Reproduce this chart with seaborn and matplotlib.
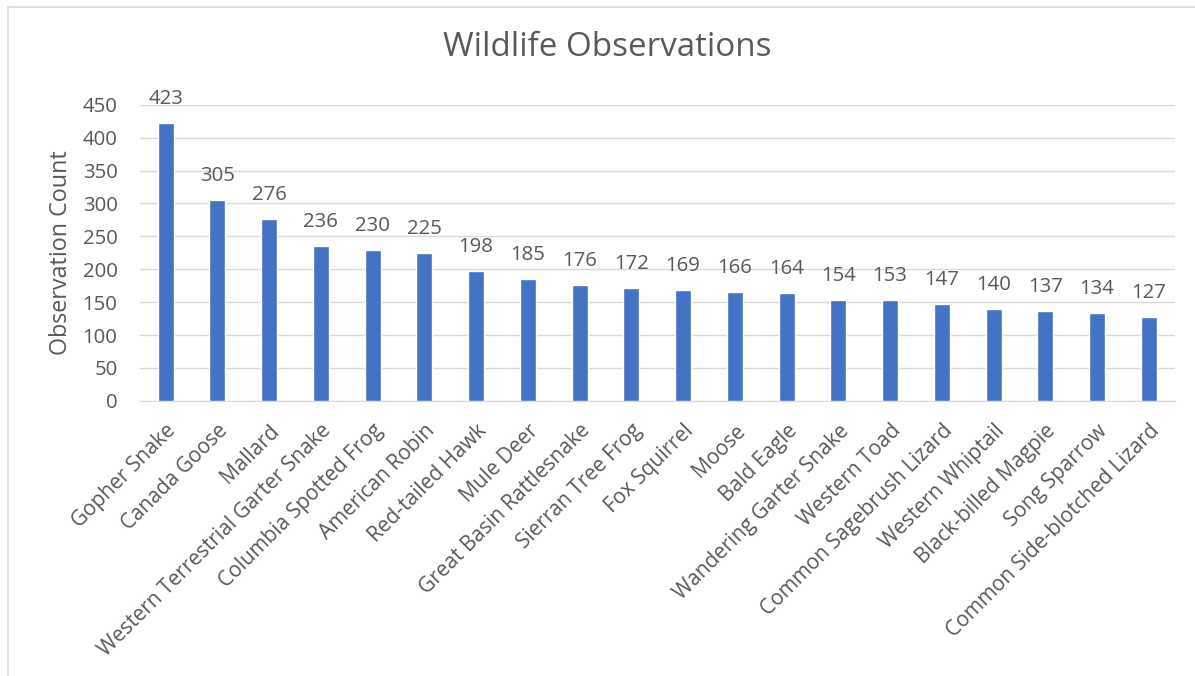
import matplotlib.pyplot as plt
import seaborn as sns

# data
species = ["Gopher Snake", "Canada Goose", "Mallard", "Western Terrestrial Garter Snake",
           "Columbia Spotted Frog", "American Robin", "Red-tailed Hawk", "Mule Deer",
           "Great Basin Rattlesnake", "Sierran Tree Frog", "Fox Squirrel", "Moose",
           "Bald Eagle", "Wandering Garter Snake", "Western Toad", "Common Sagebrush Lizard",
           "Western Whiptail", "Black-billed Magpie", "Song Sparrow", "Common Side-blotched Lizard"]
counts = [423, 305, 276, 236, 230, 225, 198, 185, 176, 172, 169, 166, 164, 154, 153, 147, 140, 137, 134, 127]
yticks = [0, 50, 100, 150, 200, 250, 300, 350, 400, 450]

sns.set_style("white")
plt.rcParams['font.family'] = ['Open Sans', 'DejaVu Sans']
txt = '#595959'

fig = plt.figure(figsize=(11.95, 6.76), dpi=100)
ax = fig.add_axes([0.117, 0.407, 0.866, 0.438])

sns.barplot(x=species, y=counts, color='#4472C4', width=0.31, saturation=1, ax=ax, zorder=3)

# value labels above bars
for i, v in enumerate(counts):
    ax.annotate(str(v), (i, v), xytext=(0, 10), textcoords='offset points',
                ha='center', va='bottom', fontsize=14.7, color=txt, annotation_clip=False)

ax.set_ylim(0, 450)
ax.set_xlim(-0.5, len(species) - 0.5)
ax.set_yticks(yticks)
ax.set_yticklabels([str(t) for t in yticks], fontsize=14.7, color=txt)
ax.set_xticks(range(len(species)))
ax.set_xticklabels(species, rotation=45, ha='right', rotation_mode='anchor', fontsize=15, color=txt)
ax.tick_params(axis='y', length=0, pad=16)
ax.tick_params(axis='x', length=0, pad=14)
ax.grid(axis='y', color='#d9d9d9', linewidth=1, zorder=0)
for s in ['left', 'right', 'top']:
    ax.spines[s].set_visible(False)
ax.spines['bottom'].set_color('#d9d9d9')
ax.set_ylabel('Observation Count', fontsize=16.8, color=txt, labelpad=7)
ax.set_xlabel('')
fig.text(0.508, 0.929, 'Wildlife Observations', ha='center', va='center', fontsize=23.9, color=txt)

# chart frame (left and top edges visible)
fig.add_artist(plt.Line2D([8 / 1195, 8 / 1195], [0, 1 - 7 / 676], color='#d9d9d9', linewidth=1.2))
fig.add_artist(plt.Line2D([8 / 1195, 1], [1 - 7 / 676, 1 - 7 / 676], color='#d9d9d9', linewidth=1.2))

fig.savefig('out.png', dpi=100)
